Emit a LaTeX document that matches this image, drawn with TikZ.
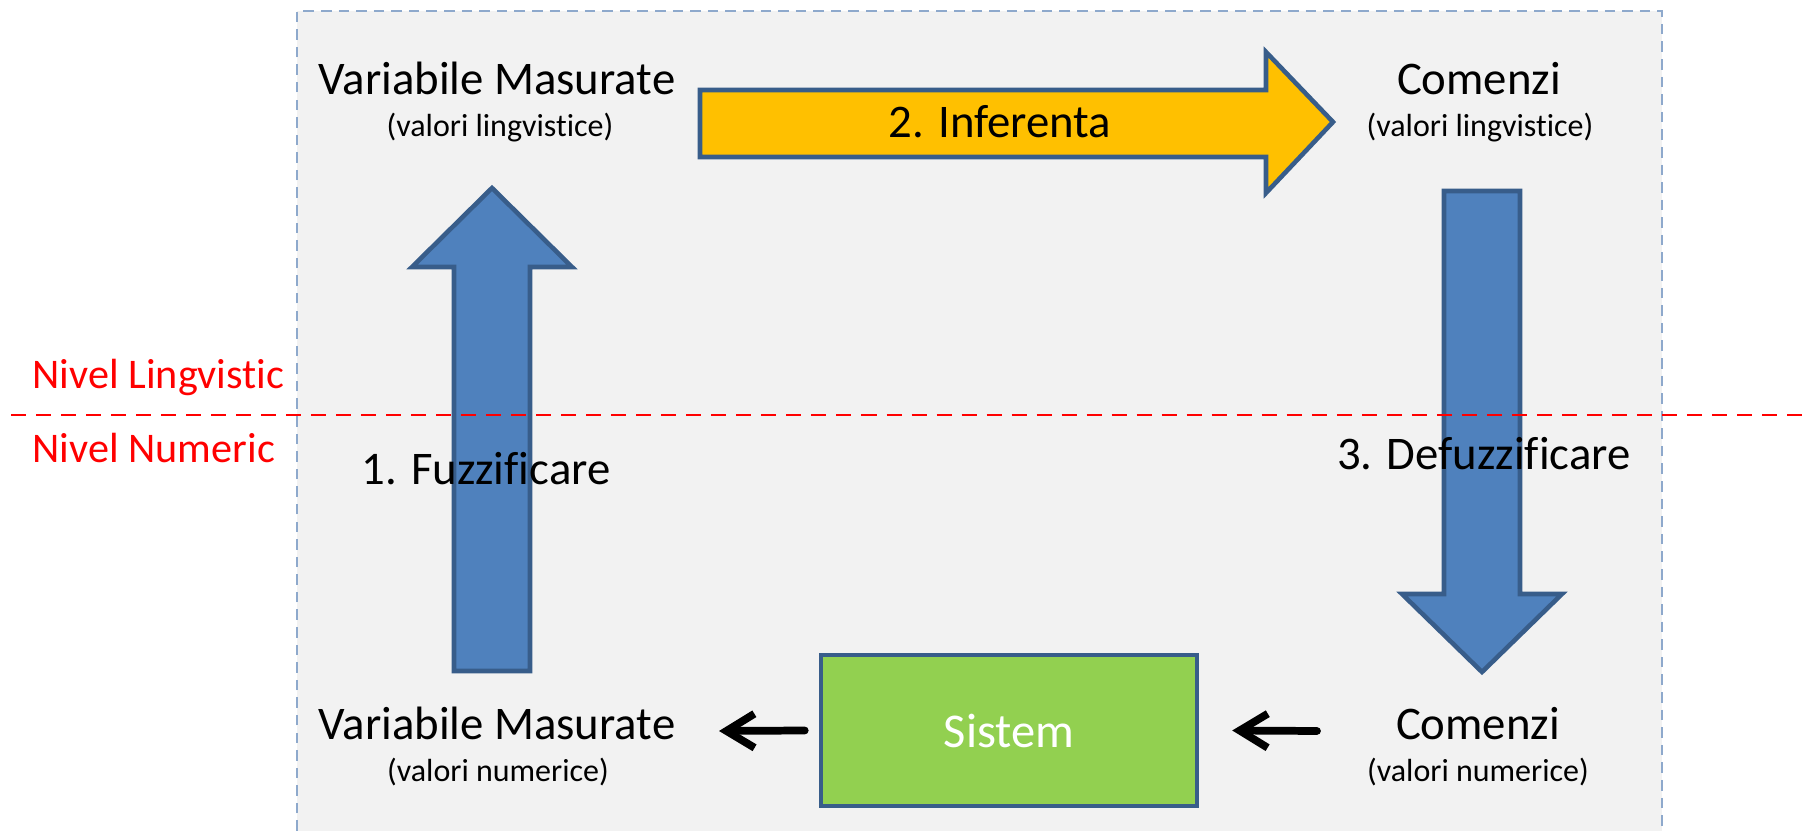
\documentclass[tikz,border=0pt]{standalone}
\usepackage{fontspec}
\setmainfont{Carlito}[Ligatures=NoCommon]
\usetikzlibrary{arrows.meta}
\definecolor{panelfill}{HTML}{F2F2F2}
\definecolor{paneledge}{HTML}{8EA9CC}
\definecolor{arrowblue}{HTML}{4F81BD}
\definecolor{edgeblue}{HTML}{385D8A}
\definecolor{inferyellow}{HTML}{FFC000}
\definecolor{sistemgreen}{HTML}{92D050}
\begin{document}
\begin{tikzpicture}[x=0.01cm, y=-0.01cm,
  title/.style={anchor=base, inner sep=0pt, font=\fontsize{13.3}{16}\selectfont},
  subtitle/.style={anchor=base, inner sep=0pt, font=\fontsize{9.1}{11}\selectfont},
  level/.style={anchor=base west, inner sep=0pt, text=red, font=\fontsize{12}{14}\selectfont},
  bigarrow/.style={fill=arrowblue, draw=edgeblue, line width=1.3pt},
  smallarrow/.style={-{Straight Barb[length=0.28cm, width=0.34cm]}, line width=2.2pt, line cap=round, line join=round}]
\useasboundingbox (0,0) rectangle (1805,831);
\fill[panelfill] (297,11) rectangle (1662,831);
\draw[paneledge, line width=0.4pt, dash pattern=on 3pt off 2pt] (297,831) -- (297,11) -- (1662,11) -- (1662,831);
\draw[bigarrow] (454,671) -- (454,267) -- (412,267) -- (492,188) -- (572,267) -- (530,267) -- (530,671) -- cycle;
\draw[bigarrow] (1444,191) -- (1444,594) -- (1402,594) -- (1482,672) -- (1562,594) -- (1520,594) -- (1520,191) -- cycle;
\draw[bigarrow, fill=inferyellow] (700,90) -- (1266,90) -- (1266,52) -- (1333,122) -- (1266,193) -- (1266,157) -- (700,157) -- cycle;
\draw[red, line width=0.7pt, dash pattern=on 0.15cm off 0.1cm] (11,415) -- (1805,415);
\node[level] (lingv) at (32,389) {Nivel Lingvistic};
\node[level] (numeric) at (32,463) {Nivel Numeric};
\node[title] (vmling) at (497,95) {Variabile Masurate};
\node[subtitle] (vmlingsub) at (500,137) {(valori lingvistice)};
\node[title] (cmdling) at (1479,95) {Comenzi};
\node[subtitle] (cmdlingsub) at (1480,137) {(valori lingvistice)};
\node[title] (infer) at (1000,138) {2. Inferenta};
\node[title] (fuzz) at (486,485) {1. Fuzzificare};
\node[title] (defuzz) at (1484,470) {3. Defuzzificare};
\node[title] (vmnum) at (497,740) {Variabile Masurate};
\node[subtitle] (vmnumsub) at (498,782) {(valori numerice)};
\node[title] (cmdnum) at (1478,740) {Comenzi};
\node[subtitle] (cmdnumsub) at (1478,782) {(valori numerice)};
\node[draw=edgeblue, fill=sistemgreen, text=white, line width=1.2pt, minimum width=3.76cm, minimum height=1.51cm, font=\fontsize{13.8}{16}\selectfont] (sistem) at (1009,730.5) {Sistem};
\coordinate (vmout) at (719,731);
\coordinate (cmdout) at (1317,731);
\draw[smallarrow] ([xshift=-0.14cm]sistem.west) -- (vmout);
\draw[smallarrow] (cmdout) -- ([xshift=0.33cm]sistem.east);
\end{tikzpicture}
\end{document}
